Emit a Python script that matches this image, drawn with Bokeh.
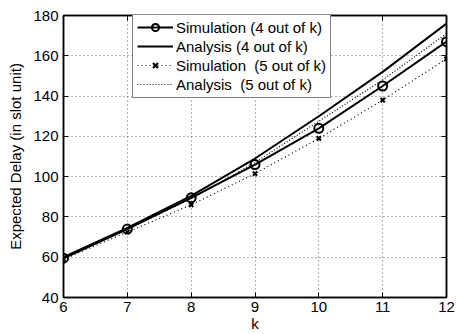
from bokeh.plotting import figure
from bokeh.models import LinearAxis, Legend, LegendItem, FixedTicker, Range1d
from bokeh.embed import file_html
from bokeh.resources import INLINE

# Expected delay versus k
k = [6, 7, 8, 9, 10, 11, 12]
sim_4 = [59.5, 74, 89.5, 106, 124, 145, 167]
ana_4 = [60, 74.5, 90.5, 109, 130, 152, 176]
sim_5 = [59, 72.5, 86, 101.5, 119, 138, 158.5]
ana_5 = [59.5, 74, 89, 107, 127.5, 148, 171]

x_ticks = [6, 7, 8, 9, 10, 11, 12]
y_ticks = [40, 60, 80, 100, 120, 140, 160, 180]

FONT = "Liberation Sans"
FS = "15px"

p = figure(width=456, height=334, output_backend="svg", toolbar_location=None,
           x_range=Range1d(6, 12), y_range=Range1d(40, 180),
           min_border_left=63, min_border_right=10, min_border_top=15, min_border_bottom=37)
p.background_fill_color = "white"
p.border_fill_color = "white"
p.outline_line_color = "black"
p.outline_line_width = 1.5

for ax in (p.xaxis[0], p.yaxis[0]):
    ax.major_label_text_font = FONT
    ax.major_label_text_font_size = FS
    ax.major_label_text_color = "black"
    ax.axis_label_text_font = FONT
    ax.axis_label_text_font_size = FS
    ax.axis_label_text_font_style = "normal"
    ax.axis_label_text_color = "black"
    ax.major_tick_in = 5
    ax.major_tick_out = 0
    ax.minor_tick_line_color = None
    ax.axis_line_width = 1.5
    ax.major_tick_line_width = 1

p.xaxis[0].ticker = FixedTicker(ticks=x_ticks)
p.yaxis[0].ticker = FixedTicker(ticks=y_ticks)
p.xaxis[0].axis_label = "k"
p.yaxis[0].axis_label = "Expected Delay (in slot unit)"
p.xaxis[0].major_label_standoff = 4
p.yaxis[0].major_label_standoff = 5
p.xaxis[0].axis_label_standoff = 0
p.yaxis[0].axis_label_standoff = 6

# mirrored tick marks on top and right, without labels
top = LinearAxis(ticker=FixedTicker(ticks=x_ticks),
                 major_label_overrides={t: "" for t in x_ticks},
                 major_tick_in=5, major_tick_out=0, minor_tick_line_color=None,
                 axis_line_width=1.5, major_label_standoff=0)
right = LinearAxis(ticker=FixedTicker(ticks=y_ticks),
                   major_label_overrides={t: "" for t in y_ticks},
                   major_tick_in=5, major_tick_out=0, minor_tick_line_color=None,
                   axis_line_width=1.5, major_label_standoff=0)
p.add_layout(top, "above")
p.add_layout(right, "right")

p.grid.grid_line_color = "black"
p.grid.grid_line_dash = "1 3"
p.grid.grid_line_width = 1
p.grid.grid_line_alpha = 0.6
p.xgrid.ticker = FixedTicker(ticks=x_ticks)
p.ygrid.ticker = FixedTicker(ticks=y_ticks)

r1 = p.line(k, sim_4, line_color="black", line_width=2)
r1m = p.scatter(k, sim_4, marker="circle", size=9, fill_color=None,
                line_color="black", line_width=2)
r2 = p.line(k, ana_4, line_color="black", line_width=2)
r3 = p.line(k, sim_5, line_color="black", line_width=1.2, line_dash="1 3")
r3m = p.scatter(k, sim_5, marker="x", size=6, line_color="black", line_width=2)
r4 = p.line(k, ana_5, line_color="black", line_width=1.2, line_dash="1 2")

legend = Legend(items=[
    LegendItem(label="Simulation (4 out of k)", renderers=[r1, r1m]),
    LegendItem(label="Analysis (4 out of k)", renderers=[r2]),
    LegendItem(label="Simulation  (5 out of k)", renderers=[r3, r3m]),
    LegendItem(label="Analysis  (5 out of k)", renderers=[r4]),
], location=(69, 199))
legend.label_text_font = FONT
legend.label_text_font_size = FS
legend.label_text_color = "black"
legend.border_line_color = "black"
legend.border_line_width = 1
legend.background_fill_alpha = 1
legend.glyph_width = 36
legend.glyph_height = 18
legend.label_height = 18
legend.label_standoff = 3
legend.spacing = 1
legend.padding = 4
legend.margin = 0
p.add_layout(legend, "center")

open("out.html", "w").write(file_html(p, INLINE))
